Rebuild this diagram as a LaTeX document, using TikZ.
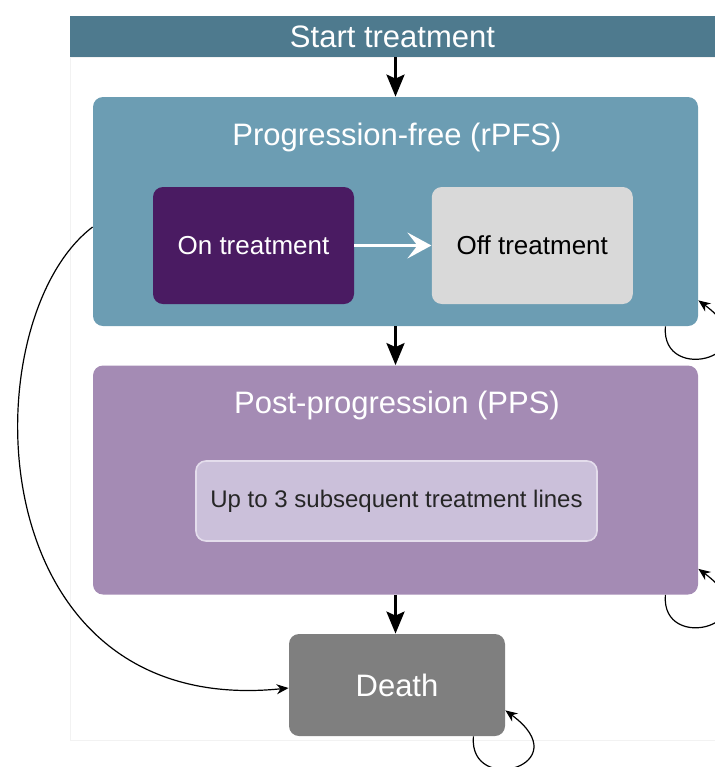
\documentclass[tikz,border=0pt]{standalone}
\usepackage{fontspec}
\setmainfont{Liberation Sans}
\usetikzlibrary{arrows.meta,positioning}

\definecolor{barblue}{HTML}{4E7A8E}
\definecolor{pfblue}{HTML}{6C9DB3}
\definecolor{onpurple}{HTML}{4A1B62}
\definecolor{offgray}{HTML}{D9D9D9}
\definecolor{ppspurple}{HTML}{A48BB4}
\definecolor{linesfill}{HTML}{CBC0DA}
\definecolor{linesedge}{HTML}{E4DDEC}
\definecolor{deathgray}{HTML}{7F7F7F}

\begin{document}
\begin{tikzpicture}[x=0.5pt,y=-0.5pt,
  state/.style={rounded corners=5pt,align=center,inner sep=0pt},
  bigbox/.style={state,minimum width=302.5pt,minimum height=114.5pt},
  smallbox/.style={state,minimum width=100.5pt,minimum height=58.5pt,
    font=\fontsize{13}{15}\selectfont},
  title/.style={text=white,font=\fontsize{15.5}{18}\selectfont},
  flow/.style={-{Stealth[length=11pt,width=9pt,inset=2pt]},line width=1.5pt},
  backloop/.style={-{Stealth[length=6pt,width=5pt]},line width=0.6pt}
]
\clip (0,0) rectangle (715,767);
\draw[gray!10] (70,57) rectangle (730,740);

\node[fill=barblue,minimum width=322.5pt,minimum height=20.5pt,inner sep=0pt,title] (start) at (392.5,36.5) {Start treatment};

\node[bigbox,fill=pfblue] (pf) at (395.5,211.5) {};
\node[title] (pftitle) at (397,137) {Progression-free (rPFS)};
\node[smallbox,fill=onpurple,text=white] (on) at (253.5,245.5) {On treatment};
\node[smallbox,fill=offgray,right=38.5pt of on] (off) {Off treatment};

\node[bigbox,fill=ppspurple] (pps) at (395.5,480) {};
\node[title] (ppstitle) at (397,405) {Post-progression (PPS)};
\node[state,fill=linesfill,draw=linesedge,line width=0.8pt,minimum width=200.5pt,minimum height=40pt,
  text=black!85,font=\fontsize{12}{14}\selectfont] (lines) at (396.5,501) {Up to 3 subsequent treatment lines};

\node[state,fill=deathgray,minimum width=108pt,minimum height=51pt,title] (death) at (397,685) {Death};

\draw[flow] (start.south-|pf.north) -- (pf.north);
\draw[flow] (pf.south) -- (pps.north);
\draw[flow] (pps.south) -- (pps.south|-death.north);
\draw[-{Stealth[length=12pt,width=13pt,inset=5pt]},line width=1.2pt,white] (on) -- (off);

\draw[backloop] ([yshift=-7.75pt]pf.west) .. controls (-30,320) and (-25,720) .. ([yshift=-1.5pt]death.west);
\draw[backloop] ([xshift=-16.5pt]pf.south east) .. controls +(-5,60) and +(75,55) .. ([yshift=13pt]pf.south east);
\draw[backloop] ([xshift=-16.5pt]pps.south east) .. controls +(-5,60) and +(75,55) .. ([yshift=13pt]pps.south east);
\draw[backloop] ([xshift=-16pt]death.south east) .. controls +(-5,60) and +(75,55) .. ([yshift=13pt]death.south east);
\end{tikzpicture}
\end{document}
